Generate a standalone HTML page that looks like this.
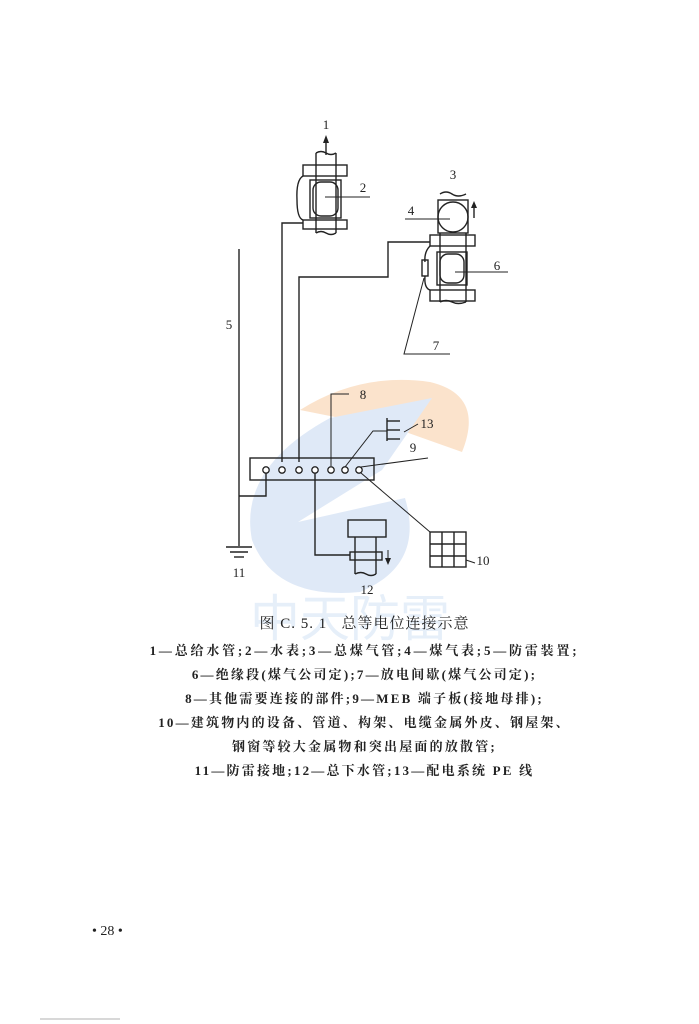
<!DOCTYPE html>
<html><head><meta charset="utf-8"><style>
html,body{margin:0;padding:0;background:#fff;}
body{width:699px;height:1024px;position:relative;overflow:hidden;font-family:"Liberation Serif","Noto Serif CJK SC",serif;}
.c{position:absolute;left:15px;width:699px;text-align:center;color:#222;font-size:13px;font-weight:bold;white-space:nowrap;line-height:16px;letter-spacing:2.2px;}
</style></head><body>
<svg width="699" height="1024" style="position:absolute;left:0;top:0" xmlns="http://www.w3.org/2000/svg">
<path d="M300 410 Q360 372 430 382 Q485 395 462 452 L400 430 Z" fill="#fbe3cc"/>
<path d="M330 418 L432 398 L382 470 L298 522 L405 498 Q425 565 360 592 Q275 600 252 540 Q238 468 330 418 Z" fill="#dfe9f7"/>
<text x="350" y="636" font-size="50" fill="#e6eff9" text-anchor="middle" font-family="Noto Sans CJK SC,sans-serif">中天防雷</text>
<g stroke="#222" stroke-width="1.4" fill="none">
<line x1="326" y1="155" x2="326" y2="140"/>
<line x1="316" y1="153" x2="316" y2="233"/><line x1="336" y1="153" x2="336" y2="233"/>
<path d="M316 153 Q321 150 326 153 Q331 156 336 153"/><path d="M316 233 Q321 230 326 233 Q331 236 336 233"/>
<rect x="303" y="165" width="44" height="11"/><rect x="303" y="220" width="44" height="9"/>
<rect x="310" y="180" width="31" height="38"/><rect x="313" y="182" width="25" height="34" rx="8"/>
<path d="M303 176 Q296 180 297 200 Q297 218 303 220"/>
<line x1="325" y1="197" x2="370" y2="197" stroke-width="1"/>
<polyline points="303,223 282,223 282,462"/>
<line x1="239" y1="249" x2="239" y2="546"/>
<path d="M440 194 Q446 190 452 194 Q458 198 466 194"/>
<rect x="438" y="200" width="30" height="33"/><circle cx="453" cy="217" r="15"/>
<line x1="474" y1="218" x2="474" y2="205"/>
<line x1="405" y1="219" x2="450" y2="219" stroke-width="1"/>
<rect x="430" y="235" width="45" height="11"/>
<line x1="440" y1="233" x2="440" y2="302"/><line x1="466" y1="233" x2="466" y2="302"/>
<rect x="437" y="252" width="30" height="33"/><rect x="440" y="254" width="24" height="29" rx="8"/>
<rect x="430" y="290" width="45" height="11"/>
<path d="M440 302 Q446 299 452 302 Q458 305 466 302"/>
<path d="M430 246 Q424 252 425 262 M425 276 Q424 288 430 290"/>
<rect x="422" y="260" width="6" height="16"/>
<line x1="455" y1="272" x2="508" y2="272" stroke-width="1"/>
<polyline points="424,278 404,354 450,354" stroke-width="1"/>
<polyline points="430,242 388,242 388,277 299,277 299,462"/>
<polyline points="349,394 331,394 331,466" stroke-width="1"/>
<line x1="387" y1="418" x2="387" y2="441"/>
<line x1="387" y1="421" x2="400" y2="421"/><line x1="387" y1="430" x2="400" y2="430"/><line x1="387" y1="439" x2="400" y2="439"/>
<line x1="404" y1="432" x2="418" y2="424" stroke-width="1"/>
<polyline points="345,467 373,431 387,431" stroke-width="1"/>
<rect x="250" y="458" width="124" height="22"/>
<line x1="361" y1="467" x2="428" y2="458" stroke-width="1"/>
<polyline points="266,473 266,496 239,496"/>
<polyline points="315,473 315,555 350,555"/>
<line x1="361" y1="473" x2="430" y2="532" stroke-width="1"/>
<rect x="348" y="520" width="38" height="17"/>
<line x1="355" y1="537" x2="355" y2="574"/><line x1="376" y1="537" x2="376" y2="574"/>
<rect x="350" y="552" width="32" height="8"/>
<path d="M355 574 Q361 571 366 574 Q371 577 376 574"/>
<line x1="388" y1="550" x2="388" y2="561" stroke-width="1"/>
<rect x="430" y="532" width="36" height="35"/>
<line x1="442" y1="532" x2="442" y2="567"/><line x1="454" y1="532" x2="454" y2="567"/>
<line x1="430" y1="544" x2="466" y2="544"/><line x1="430" y1="556" x2="466" y2="556"/>
<line x1="466" y1="560" x2="475" y2="563" stroke-width="1"/>
<line x1="226" y1="547" x2="252" y2="547"/><line x1="230" y1="552" x2="248" y2="552"/><line x1="234" y1="557" x2="244" y2="557"/>
<line x1="40" y1="1019" x2="120" y2="1019" stroke="#ccc"/>
</g>
<g fill="#222" stroke="none">
<polygon points="326,135 323,143 329,143"/>
<polygon points="474,201 471,208 477,208"/>
<polygon points="388,565 385,558 391,558"/>
<g fill="#fff" stroke="#222" stroke-width="1.3">
<circle cx="266" cy="470" r="3.2"/><circle cx="282" cy="470" r="3.2"/><circle cx="299" cy="470" r="3.2"/><circle cx="315" cy="470" r="3.2"/><circle cx="331" cy="470" r="3.2"/><circle cx="345" cy="470" r="3.2"/><circle cx="359" cy="470" r="3.2"/>
</g>
</g>
<g font-family="Liberation Serif,serif" font-size="13" fill="#222" text-anchor="middle">
<text x="326" y="129">1</text><text x="363" y="192">2</text><text x="453" y="179">3</text>
<text x="411" y="215">4</text><text x="229" y="329">5</text><text x="497" y="270">6</text>
<text x="436" y="350">7</text><text x="363" y="399">8</text><text x="413" y="452">9</text>
<text x="427" y="428">13</text><text x="483" y="565">10</text><text x="239" y="577">11</text><text x="367" y="594">12</text>
</g>
</svg>
<div class="c" style="top:616px;font-size:15px;font-weight:normal;letter-spacing:1px;">图 C. 5. 1 &nbsp;&nbsp;总等电位连接示意</div>
<div class="c" style="top:643px;letter-spacing:2.8px;">1—总给水管;2—水表;3—总煤气管;4—煤气表;5—防雷装置;</div>
<div class="c" style="top:667px;">6—绝缘段(煤气公司定);7—放电间歇(煤气公司定);</div>
<div class="c" style="top:691px;">8—其他需要连接的部件;9—MEB 端子板(接地母排);</div>
<div class="c" style="top:715px;">10—建筑物内的设备、管道、构架、电缆金属外皮、钢屋架、</div>
<div class="c" style="top:739px;">钢窗等较大金属物和突出屋面的放散管;</div>
<div class="c" style="top:763px;">11—防雷接地;12—总下水管;13—配电系统 PE 线</div>
<div style="position:absolute;left:92px;top:924px;font-size:14px;color:#222;">• 28 •</div>
</body></html>
